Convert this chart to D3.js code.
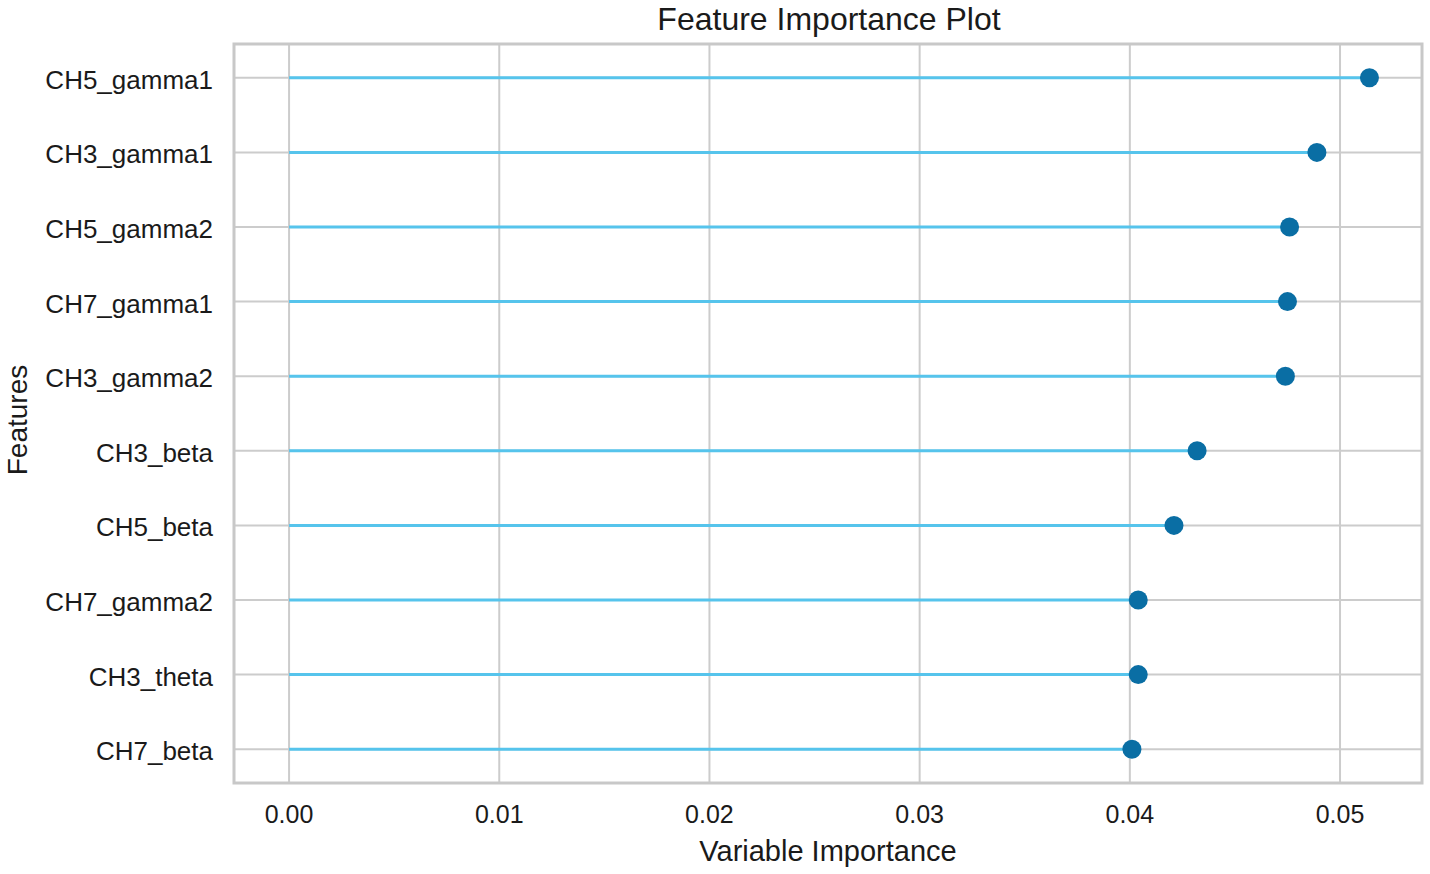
<!DOCTYPE html>
<html>
<head>
<meta charset="utf-8">
<script src="https://cdn.jsdelivr.net/npm/d3@7"></script>
<style>
  body { margin: 0; background: #fff; }
  text { font-family: "Liberation Sans", Arial, sans-serif; fill: #1a1a1a; }
</style>
</head>
<body>
<svg id="chart" width="1430" height="874"></svg>
<script>
// feature names, top to bottom
var features = ["CH5_gamma1", "CH3_gamma1", "CH5_gamma2", "CH7_gamma1", "CH3_gamma2",
  "CH3_beta", "CH5_beta", "CH7_gamma2", "CH3_theta", "CH7_beta"];
var importance = [0.0514, 0.0489, 0.0476, 0.0475, 0.0474,
  0.0432, 0.0421, 0.0404, 0.0404, 0.0401];
var xTicks = [0, 0.01, 0.02, 0.03, 0.04, 0.05];

var svg = d3.select("#chart");
var plotLeft = 234, plotRight = 1422, plotTop = 44, plotBottom = 783;

var x = d3.scaleLinear().domain([-0.00262, 0.0539]).range([plotLeft, plotRight]);
var y = d3.scalePoint().domain(features).range([plotTop, plotBottom]).padding(0.453);

var data = features.map(function(f, i) {
  return { name: f, value: importance[i] };
});

// grid
svg.append("g").selectAll("line")
  .data(xTicks)
  .enter().append("line")
  .attr("x1", d => x(d)).attr("x2", d => x(d))
  .attr("y1", plotTop).attr("y2", plotBottom)
  .attr("stroke", "#cccccc").attr("stroke-width", 2);

svg.append("g").selectAll("line")
  .data(features)
  .enter().append("line")
  .attr("x1", plotLeft).attr("x2", plotRight)
  .attr("y1", d => y(d)).attr("y2", d => y(d))
  .attr("stroke", "#cccccc").attr("stroke-width", 2);

// frame
svg.append("rect")
  .attr("x", plotLeft).attr("y", plotTop)
  .attr("width", plotRight - plotLeft).attr("height", plotBottom - plotTop)
  .attr("fill", "none").attr("stroke", "#c8c8c8").attr("stroke-width", 3);

// stems
svg.append("g").selectAll("line")
  .data(data)
  .enter().append("line")
  .attr("x1", x(0)).attr("x2", d => x(d.value))
  .attr("y1", d => y(d.name)).attr("y2", d => y(d.name))
  .attr("stroke", "#56c4ec").attr("stroke-width", 3);

// dots
svg.append("g").selectAll("circle")
  .data(data)
  .enter().append("circle")
  .attr("cx", d => x(d.value)).attr("cy", d => y(d.name))
  .attr("r", 9.5)
  .attr("fill", "#0a6ea4");

// y labels
svg.append("g").selectAll("text")
  .data(features)
  .enter().append("text")
  .attr("x", 213).attr("y", d => y(d))
  .attr("dy", "0.42em")
  .attr("text-anchor", "end")
  .attr("font-size", 26)
  .text(d => d);

// x tick labels
svg.append("g").selectAll("text")
  .data(xTicks)
  .enter().append("text")
  .attr("x", d => x(d)).attr("y", 823)
  .attr("text-anchor", "middle")
  .attr("font-size", 25)
  .text(d => d3.format(".2f")(d));

// titles
svg.append("text")
  .attr("x", 829).attr("y", 30)
  .attr("text-anchor", "middle")
  .attr("font-size", 32)
  .text("Feature Importance Plot");

svg.append("text")
  .attr("x", 828).attr("y", 861)
  .attr("text-anchor", "middle")
  .attr("font-size", 29)
  .text("Variable Importance");

svg.append("text")
  .attr("transform", "translate(27,420) rotate(-90)")
  .attr("text-anchor", "middle")
  .attr("font-size", 28)
  .text("Features");
</script>
</body>
</html>
